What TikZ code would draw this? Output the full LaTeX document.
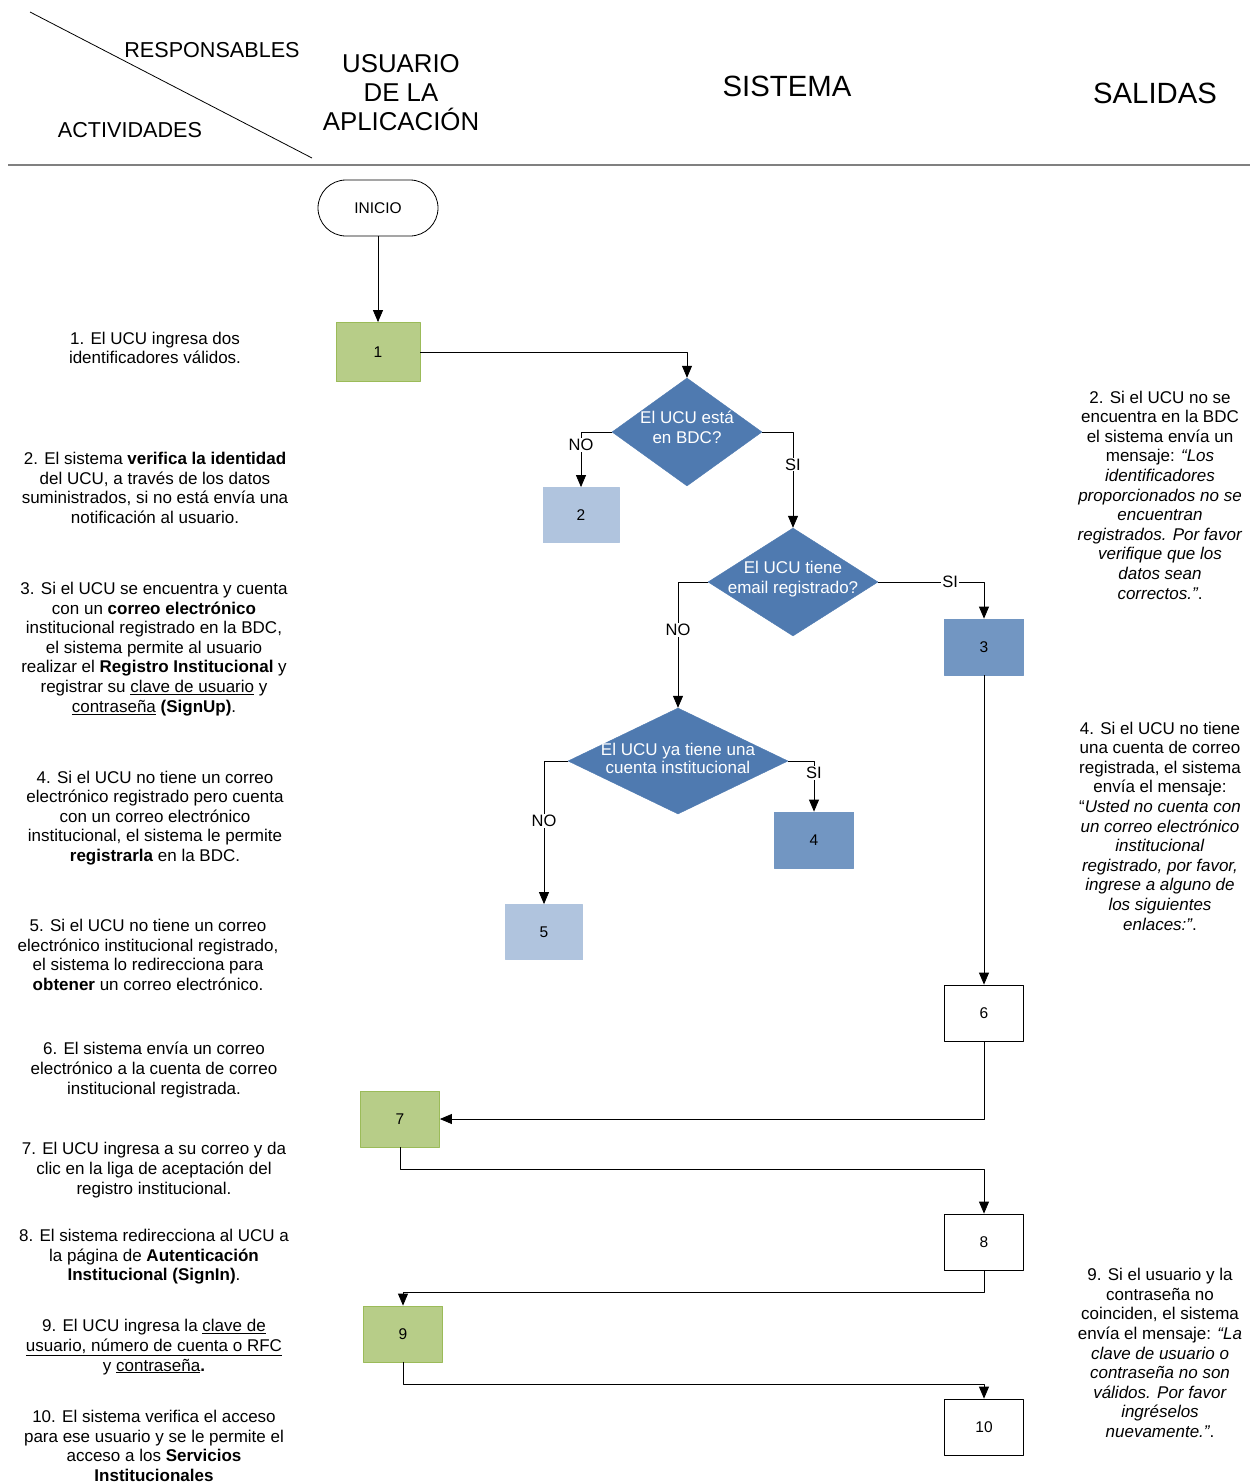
\documentclass[tikz,border=0pt]{standalone}
\usepackage{fontspec}
\setmainfont{Liberation Sans}
\usetikzlibrary{shapes.geometric,arrows.meta}

\definecolor{verde}{RGB}{183,205,136}
\definecolor{verdeborde}{RGB}{155,187,89}
\definecolor{azul}{RGB}{79,122,176}
\definecolor{azulmedio}{RGB}{114,150,194}
\definecolor{azulclaro}{RGB}{176,196,222}
\definecolor{gris}{RGB}{128,128,128}

\newcommand{\rombotexto}[2][-4pt]{\makebox[0pt]{\raisebox{#1}{\smash{\begin{tabular}{@{}c@{}}#2\end{tabular}}}}}

\tikzset{
  paso/.style={draw, line width=0.8pt, minimum width=79pt, minimum height=56pt, inner sep=0pt,
    font=\fontsize{15.5}{18}\selectfont},
  pasoverde/.style={paso, fill=verde, draw=verdeborde},
  pasoclaro/.style={paso, fill=azulclaro, draw=azulclaro},
  pasomedio/.style={paso, fill=azulmedio, draw=azulmedio},
  rombo/.style={diamond, fill=azul, draw=azul, inner sep=0pt, text=white,
    font=\fontsize{17}{19.5}\selectfont},
  flecha/.style={line width=0.8pt, -{Triangle[length=12pt,width=10pt]}},
  etiqueta/.style={fill=white, inner sep=1pt, font=\fontsize{16.5}{18}\selectfont},
  texto/.style={align=center, inner sep=0pt, font=\fontsize{17}{19.6}\selectfont},
  titulo/.style={align=center, inner sep=0pt},
}

\begin{document}
\begin{tikzpicture}[x=1pt,y=-1pt,line join=round]
  \useasboundingbox (0,0) rectangle (1256,1483);

  % encabezado
  \draw[line width=0.8pt] (30,12) -- (312,158);
  \draw[gris, line width=2pt] (8,165) -- (1250,165);
  \node[titulo, font=\fontsize{21.6}{24}\selectfont] (resp) at (212,50) {RESPONSABLES};
  \node[titulo, font=\fontsize{21.6}{24}\selectfont] (activ) at (130,130) {ACTIVIDADES};
  \node[titulo, font=\fontsize{25.8}{29}\selectfont] (usuario) at (401,93) {USUARIO\\DE LA\\APLICACIÓN};
  \node[titulo, font=\fontsize{29.3}{32}\selectfont] (sistema) at (787,86) {SISTEMA};
  \node[titulo, font=\fontsize{29.3}{32}\selectfont] (salidas) at (1155,93) {SALIDAS};

  % diagrama
  \node[draw, line width=0.8pt, rounded corners=28pt, minimum width=120pt, minimum height=56pt,
    font=\fontsize{15.5}{18}\selectfont] (inicio) at (378,208) {INICIO};
  \node[pasoverde, minimum width=84pt, minimum height=59pt] (p1) at (378,352) {1};
  \node[rombo, minimum width=150pt, minimum height=108pt] (d1) at (687,432)
    {\rombotexto{El UCU está\\en BDC?}};
  \node[pasoclaro, minimum width=76pt, minimum height=55pt] (p2) at (581,515) {2};
  \node[rombo, minimum width=170pt, minimum height=108pt] (d2) at (793,582)
    {\rombotexto{El UCU tiene\\email registrado?}};
  \node[pasomedio] (p3) at (984,647) {3};
  \node[rombo, minimum width=220pt, minimum height=106pt] (d3) at (678,761)
    {\rombotexto[-8pt]{El UCU ya tiene una\\[-2pt]cuenta institucional}};
  \node[pasomedio] (p4) at (814,840) {4};
  \node[pasoclaro, minimum width=77pt, minimum height=55pt] (p5) at (544,932) {5};
  \node[paso] (p6) at (984,1013) {6};
  \node[pasoverde] (p7) at (400,1119) {7};
  \node[paso] (p8) at (984,1242) {8};
  \node[pasoverde] (p9) at (403,1334) {9};
  \node[paso] (p10) at (984,1427) {10};

  \draw[flecha] (inicio) -- (p1);
  \draw[flecha] (p1.east) -| (d1.north);
  \draw[flecha] (d1.west) -| node[etiqueta, pos=0.62] {NO} (p2.north);
  \draw[flecha] (d1.east) -| node[etiqueta, pos=0.67] {SI} (d2.north);
  \draw[flecha] (d2.west) -| node[etiqueta, pos=0.69] {NO} (d3.north);
  \draw[flecha] (d2.east) -| node[etiqueta, pos=0.34] {SI} (p3.north);
  \draw[flecha] (d3.west) -| node[etiqueta, pos=0.71] {NO} (p5.north);
  \draw[flecha] (d3.east) -| node[etiqueta, pos=0.62] {SI} (p4.north);
  \draw[flecha] (p3) -- (p6);
  \draw[flecha] (p6.south) |- (p7.east);
  \draw[flecha] (p7.south) -- ++(0,22) -| (p8.north);
  \draw[flecha] (p8.south) -- ++(0,22) -| (p9.north);
  \draw[flecha] (p9.south) -- ++(0,22) -| (p10.north);

  % actividades
  \node[texto] (t1) at (155,348) {1. El UCU ingresa dos\\identificadores válidos.};
  \node[texto] (t2) at (155,488) {2. El sistema \textbf{verifica la identidad}\\del UCU, a través de los datos\\suministrados, si no está envía una\\notificación al usuario.};
  \node[texto] (t3) at (154,649) {3. Si el UCU se encuentra y cuenta\\con un \textbf{correo electrónico}\\institucional registrado en la BDC,\\el sistema permite al usuario\\realizar el \textbf{Registro Institucional} y\\registrar su \underline{clave de usuario} y\\\underline{contraseña} \textbf{(SignUp)}.};
  \node[texto] (t4) at (155,818) {4. Si el UCU no tiene un correo\\electrónico registrado pero cuenta\\con un correo electrónico\\institucional, el sistema le permite\\\textbf{registrarla} en la BDC.};
  \node[texto] (t5) at (148,955) {5. Si el UCU no tiene un correo\\electrónico institucional registrado,\\el sistema lo redirecciona para\\\textbf{obtener} un correo electrónico.};
  \node[texto] (t6) at (154,1070) {6. El sistema envía un correo\\electrónico a la cuenta de correo\\institucional registrada.};
  \node[texto] (t7) at (154,1170) {7. El UCU ingresa a su correo y da\\clic en la liga de aceptación del\\registro institucional.};
  \node[texto] (t8) at (154,1257) {8. El sistema redirecciona al UCU a\\la página de \textbf{Autenticación}\\\textbf{Institucional (SignIn)}.};
  \node[texto] (t9) at (154,1347) {9. El UCU ingresa la \underline{clave de}\\\underline{usuario, número de cuenta o RFC}\\y \underline{contraseña}\textbf{.}};
  \node[texto] (t10) at (154,1446) {10. El sistema verifica el acceso\\para ese usuario y se le permite el\\acceso a los \textbf{Servicios}\\\textbf{Institucionales}};

  % salidas
  \node[texto] (s2) at (1160,495) {2. Si el UCU no se\\encuentra en la BDC\\el sistema envía un\\mensaje: \textit{“Los}\\\textit{identificadores}\\\textit{proporcionados no se}\\\textit{encuentran}\\\textit{registrados. Por favor}\\\textit{verifique que los}\\\textit{datos sean}\\\textit{correctos.”}.};
  \node[texto] (s4) at (1160,826) {4. Si el UCU no tiene\\una cuenta de correo\\registrada, el sistema\\envía el mensaje:\\“\textit{Usted no cuenta con}\\\textit{un correo electrónico}\\\textit{institucional}\\\textit{registrado, por favor,}\\\textit{ingrese a alguno de}\\\textit{los siguientes}\\\textit{enlaces:”}.};
  \node[texto] (s9) at (1160,1353) {9. Si el usuario y la\\contraseña no\\coinciden, el sistema\\envía el mensaje: \textit{“La}\\\textit{clave de usuario o}\\\textit{contraseña no son}\\\textit{válidos. Por favor}\\\textit{ingréselos}\\\textit{nuevamente.”}.};
\end{tikzpicture}
\end{document}
